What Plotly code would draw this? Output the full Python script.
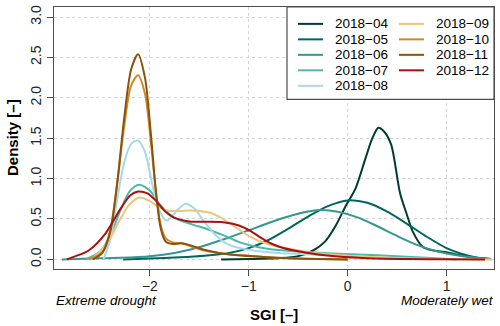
import plotly.graph_objects as go

# ── DATA ─────────────────────────────────────────────────────────────────────
MONTHS = ["2018−04", "2018−05", "2018−06", "2018−07", "2018−08",
          "2018−09", "2018−10", "2018−11", "2018−12"]
COLORS = ["#003c30", "#01665e", "#35978f", "#48b9ad", "#a6d8e8",
          "#eac67a", "#cd8a2c", "#8c510a", "#a8110f"]

x_04 = [-1.28, -1.0, -0.7, -0.5, -0.35, -0.23, -0.12, -0.02, 0.08, 0.18, 0.25, 0.31,
        0.37, 0.44, 0.53, 0.6, 0.66, 0.76, 0.87, 1.0, 1.1, 1.2, 1.3, 1.45]
y_04 = [0.0, 0.005, 0.015, 0.04, 0.11, 0.22, 0.42, 0.66, 0.88, 1.25, 1.5, 1.63,
        1.58, 1.42, 0.82, 0.55, 0.34, 0.155, 0.11, 0.09, 0.06, 0.04, 0.02, 0.005]

x_05 = [-2.27, -2.0, -1.7, -1.45, -1.2, -1.0, -0.8, -0.6, -0.4, -0.2, 0.0, 0.2,
        0.4, 0.6, 0.8, 1.0, 1.15, 1.3, 1.42]
y_05 = [0.0, 0.01, 0.025, 0.045, 0.08, 0.14, 0.24, 0.38, 0.53, 0.66, 0.73, 0.7,
        0.59, 0.44, 0.28, 0.14, 0.07, 0.025, 0.005]

x_06 = [-2.89, -2.6, -2.3, -2.0, -1.75, -1.5, -1.25, -1.0, -0.8, -0.6, -0.45, -0.28,
        -0.1, 0.1, 0.3, 0.5, 0.7, 0.9, 1.1, 1.3, 1.45]
y_06 = [0.0, 0.01, 0.02, 0.04, 0.08, 0.15, 0.25, 0.36, 0.45, 0.53, 0.58, 0.61,
        0.59, 0.52, 0.41, 0.29, 0.18, 0.1, 0.05, 0.02, 0.005]

x_07 = [-2.65, -2.5, -2.4, -2.3, -2.2, -2.11, -2.0, -1.9, -1.76, -1.59, -1.43, -1.26,
        -1.09, -0.9, -0.7, -0.48, -0.2, 0.1, 0.5, 0.8, 1.1]
y_07 = [0.0, 0.1, 0.3, 0.6, 0.85, 0.925, 0.85, 0.68, 0.52, 0.44, 0.38, 0.3,
        0.21, 0.15, 0.115, 0.095, 0.075, 0.06, 0.04, 0.02, 0.0]

x_08 = [-2.47, -2.4, -2.33, -2.26, -2.19, -2.12, -2.05, -1.98, -1.91, -1.83,
        -1.73, -1.64, -1.55, -1.47, -1.38, -1.28, -1.18, -1.05, -0.9, -0.7, -0.45,
        -0.2, 0.1, 0.4, 0.65]
y_08 = [0.0, 0.25, 0.75, 1.2, 1.43, 1.47, 1.33, 0.95, 0.62, 0.48,
        0.6, 0.69, 0.63, 0.5, 0.36, 0.24, 0.17, 0.13, 0.1, 0.08, 0.065,
        0.05, 0.035, 0.015, 0.0]

x_09 = [-2.6, -2.5, -2.4, -2.3, -2.2, -2.1, -2.0, -1.9, -1.8, -1.7, -1.6, -1.5, -1.4,
        -1.3, -1.2, -1.1, -1.0, -0.9, -0.75, -0.58, -0.4, -0.25, 0.0, 0.3, 0.7, 1.1, 1.46]
y_09 = [0.0, 0.1, 0.27, 0.5, 0.69, 0.765, 0.72, 0.64, 0.6, 0.6, 0.605, 0.6, 0.58,
        0.53, 0.45, 0.37, 0.29, 0.23, 0.17, 0.13, 0.09, 0.07, 0.045, 0.025, 0.01, 0.003, 0.0]

x_10 = [-2.62, -2.48, -2.40, -2.33, -2.26, -2.19, -2.12, -2.05, -1.99, -1.94, -1.89,
        -1.84, -1.77, -1.68, -1.58, -1.45, -1.3, -1.1, -0.85, -0.6, -0.3, 0.0]
y_10 = [0.0, 0.09, 0.37, 0.95, 1.65, 2.15, 2.28, 2.05, 1.45, 0.85, 0.42,
        0.26, 0.21, 0.2, 0.16, 0.11, 0.08, 0.05, 0.03, 0.015, 0.005, 0.0]

x_11 = [-2.58, -2.48, -2.40, -2.33, -2.26, -2.19, -2.12, -2.05, -1.99, -1.94, -1.89,
        -1.84, -1.77, -1.68, -1.58, -1.45, -1.3, -1.1, -0.85, -0.6, -0.3, 0.0]
y_11 = [0.0, 0.08, 0.35, 0.95, 1.75, 2.35, 2.54, 2.25, 1.55, 0.85, 0.38,
        0.22, 0.19, 0.2, 0.17, 0.12, 0.08, 0.05, 0.03, 0.015, 0.005, 0.0]

x_12 = [-2.84, -2.75, -2.62, -2.45, -2.29, -2.2, -2.12, -2.03, -1.95, -1.85, -1.76,
        -1.6, -1.44, -1.26, -1.1, -0.98, -0.88, -0.78, -0.65, -0.5, -0.3, -0.1,
        0.2, 0.6, 1.0, 1.39]
y_12 = [0.0, 0.04, 0.11, 0.32, 0.64, 0.79, 0.84, 0.82, 0.74, 0.6, 0.52,
        0.47, 0.465, 0.46, 0.42, 0.35, 0.27, 0.2, 0.14, 0.1, 0.06, 0.035,
        0.015, 0.005, 0.002, 0.0]

SERIES_X = [x_04, x_05, x_06, x_07, x_08, x_09, x_10, x_11, x_12]
SERIES_Y = [y_04, y_05, y_06, y_07, y_08, y_09, y_10, y_11, y_12]

X_TICKS = [-2, -1, 0, 1]
Y_TICKS = [0, 0.5, 1.0, 1.5, 2.0, 2.5, 3.0]
Y_TICKTEXT = ["0.0", "0.5", "1.0", "1.5", "2.0", "2.5", "3.0"]

# ── LAYOUT ───────────────────────────────────────────────────────────────────
W, H = 500, 326
L, R, T, B = 54, 6, 5, 57
FONT = "Liberation Sans, Arial, sans-serif"


def px(xpix):
    return (xpix - L) / (W - L - R)


def py(ypix):
    return (H - B - ypix) / (H - T - B)


fig = go.Figure()
for xs, ys, col, name in zip(SERIES_X, SERIES_Y, COLORS, MONTHS):
    fig.add_trace(go.Scatter(
        x=xs, y=ys, mode="lines", name=name, showlegend=False,
        line=dict(color=col, width=2, shape="spline", smoothing=0.8),
    ))

# legend box drawn by hand (two columns like the original)
shapes = [dict(type="rect", xref="paper", yref="paper",
               x0=px(287), x1=1, y0=py(98), y1=1,
               fillcolor="white", line=dict(color="#4d4d4d", width=1.2),
               layer="above")]
annotations = []
for i, (name, col) in enumerate(zip(MONTHS, COLORS)):
    colno, row = (0, i) if i < 5 else (1, i - 5)
    x0 = 298 if colno == 0 else 399
    ty = 22 + row * 15.6
    shapes.append(dict(type="line", xref="paper", yref="paper",
                       x0=px(x0), x1=px(x0 + 25), y0=py(ty), y1=py(ty),
                       line=dict(color=col, width=2), layer="above"))
    annotations.append(dict(text=name, xref="paper", yref="paper",
                            x=px(x0 + 35), y=py(ty), xanchor="left", yanchor="middle",
                            showarrow=False, font=dict(size=13.5, color="black")))

annotations += [
    dict(text="<b>Density [–]</b>", xref="paper", yref="paper", x=px(12), y=py(137),
         xanchor="center", yanchor="middle",
         textangle=-90, showarrow=False, font=dict(size=15)),
    dict(text="<b>SGI [–]</b>", xref="paper", yref="paper", x=px(274), y=py(315),
         xanchor="center", yanchor="middle", showarrow=False, font=dict(size=15)),
    dict(text="<i>Extreme drought</i>", xref="paper", yref="paper", x=px(54), y=py(301),
         xanchor="left", yanchor="middle", showarrow=False, font=dict(size=13.5)),
    dict(text="<i>Moderately wet</i>", xref="paper", yref="paper", x=px(496), y=py(301),
         xanchor="right", yanchor="middle", showarrow=False, font=dict(size=13.5)),
]

axis_common = dict(
    showgrid=True, gridcolor="#d6d6d6", griddash="dot", gridwidth=1,
    zeroline=False, showline=True, mirror=True, linecolor="#4d4d4d", linewidth=1.3,
    ticks="outside", ticklen=6, tickcolor="#4d4d4d", tickwidth=1.2,
    tickfont=dict(size=14, color="#222"),
)

fig.update_layout(
    width=W, height=H,
    margin=dict(l=L, r=R, t=T, b=B),
    plot_bgcolor="white", paper_bgcolor="white",
    font=dict(family=FONT, color="black"),
    showlegend=False,
    shapes=shapes, annotations=annotations,
    xaxis=dict(**axis_common, range=[-2.97, 1.48], tickvals=X_TICKS,
               ticklabelstandoff=-2),
    yaxis=dict(**axis_common, range=[-0.119, 3.124], tickvals=Y_TICKS,
               ticktext=Y_TICKTEXT, tickangle=-90),
)

fig.write_html("out.html", config={"displayModeBar": False},
               post_script="document.body.style.margin='0';")
